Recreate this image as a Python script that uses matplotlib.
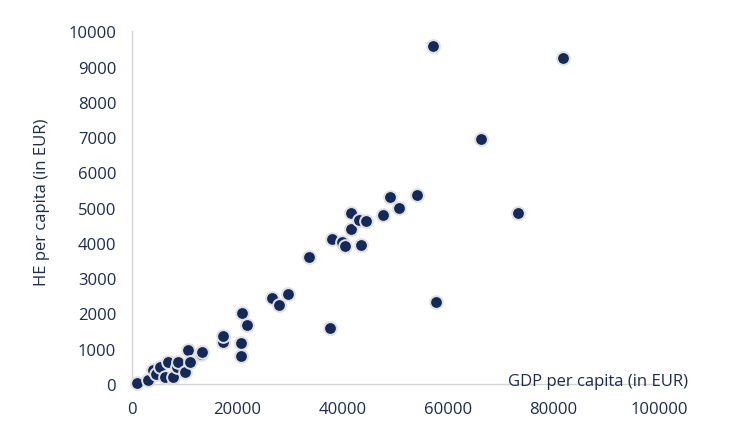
import matplotlib
matplotlib.use("Agg")
import matplotlib.pyplot as plt

gdp_per_capita = [1000, 3100, 4100, 4550, 5400, 6350, 6900, 7900, 8700, 8900,
                  10100, 10800, 11100, 13100, 13300, 17300, 17400, 20800, 20800,
                  20900, 21850, 26600, 27950, 29600, 33650, 37650, 37950, 39850,
                  40450, 41600, 41600, 43200, 43450, 44450, 47600, 49000, 50700,
                  54100, 57200, 57650, 66200, 73200, 81850]
he_per_capita = [30, 120, 400, 280, 480, 210, 615, 190, 470, 615,
                 340, 975, 615, 850, 910, 1180, 1370, 1155, 800,
                 2000, 1680, 2430, 2240, 2560, 3610, 1590, 4110, 4035,
                 3900, 4860, 4395, 4660, 3950, 4630, 4800, 5310, 5000,
                 5370, 9590, 2330, 6950, 4850, 9250]

x_ticks = [0, 20000, 40000, 60000, 80000, 100000]
y_ticks = [0, 1000, 2000, 3000, 4000, 5000, 6000, 7000, 8000, 9000, 10000]

navy = "#13295a"
text_col = "#1b2b52"
axis_col = "#d4d4d4"

plt.rcParams['font.family'] = ['Open Sans', 'DejaVu Sans']

fig = plt.figure(figsize=(7.33, 4.35), dpi=100)
ax = fig.add_axes([131.5/733, 1-385/435, (659-131.5)/733, (385-32.3)/435])

ax.scatter(gdp_per_capita, he_per_capita, s=84, color=navy,
           edgecolors="#e0e0e0", linewidths=1.4, zorder=3, clip_on=False)

ax.set_xlim(0, 100000)
ax.set_ylim(0, 10000)
ax.set_xticks(x_ticks)
ax.set_yticks(y_ticks)
ax.set_xticklabels([str(v) for v in x_ticks])
ax.set_yticklabels([str(v) for v in y_ticks])
ax.tick_params(length=0, labelsize=12, colors=text_col)
ax.tick_params(axis='x', pad=12.5)
ax.tick_params(axis='y', pad=11)
for side in ['top', 'right']:
    ax.spines[side].set_visible(False)
for side in ['left', 'bottom']:
    ax.spines[side].set_color(axis_col)
    ax.spines[side].set_linewidth(1.0)

fig.text(688/733, 1-386/435, "GDP per capita (in EUR)", ha='right', va='baseline',
         fontsize=12, color=text_col)
fig.text(42/733, 1-202/435, "HE per capita (in EUR)", ha='center', va='center',
         rotation=90, fontsize=12, color=text_col)

fig.savefig("out.png", dpi=100)
